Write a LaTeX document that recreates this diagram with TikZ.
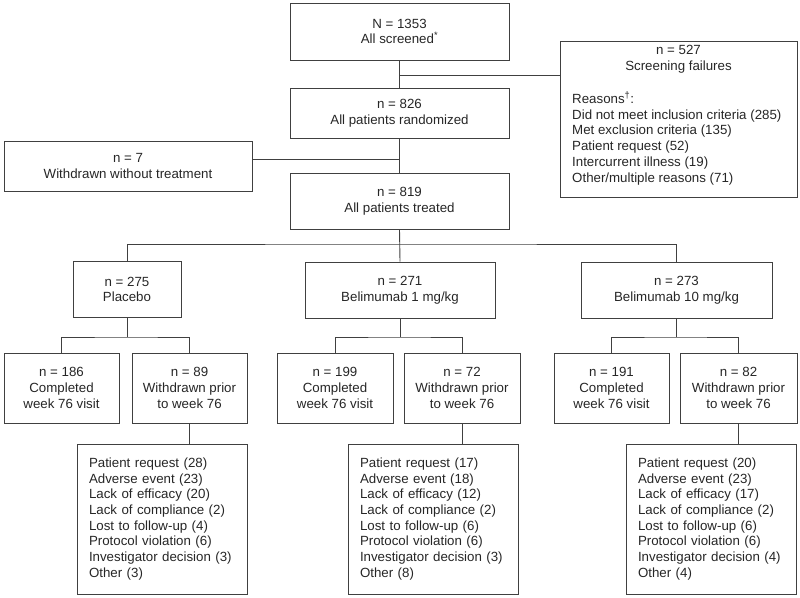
\documentclass[tikz,border=0pt]{standalone}
\usepackage{fontspec}
\setmainfont{Liberation Sans}
\begin{document}
\begin{tikzpicture}[x=1pt,y=-1pt,
  box/.style={draw=black!75, line width=0.9pt, inner sep=0pt, align=center,
    font=\fontsize{13.3}{15.7}\selectfont, text=black!85},
  txt/.style={inner sep=0pt, font=\fontsize{13.3}{15.7}\selectfont, text=black!85},
  rbox/.style={box, align=left, minimum height=150pt, text width=146pt, inner xsep=12pt},
  ln/.style={draw=black!75, line width=0.9pt}]
\useasboundingbox (0,0) rectangle (800,597);

% top chain
\node[box, minimum width=219pt, minimum height=57pt] (scr) at (399.5,31.5) {N = 1353\\All screened\textsuperscript{*}};
\node[box, minimum width=219pt, minimum height=50pt] (rnd) at (399.5,113) {n = 826\\All patients randomized};
\node[box, minimum width=219pt, minimum height=56pt] (trt) at (399.5,201) {n = 819\\All patients treated};

% screening failures
\node[box, minimum width=237pt, minimum height=156pt] (fail) at (678.5,119) {};
\node[txt, align=center] (failh) at (678.5,59.5) {n = 527\\Screening failures};
\node[txt, align=left, anchor=base west] (failr) at (572,182) {Reasons\textsuperscript{†}:\\Did not meet inclusion criteria (285)\\Met exclusion criteria (135)\\Patient request (52)\\Intercurrent illness (19)\\Other/multiple reasons (71)};

% withdrawn without treatment
\node[box, minimum width=248pt, minimum height=50pt] (wo) at (128,166) {n = 7\\Withdrawn without treatment};

\coordinate (j1) at (399.5,75);
\coordinate (j2) at (399.5,159);
\draw[ln] (scr) -- (rnd);
\draw[ln] (j1) -- (j1 -| fail.west);
\draw[ln] (rnd) -- (trt);
\draw[ln] (j2) -- (j2 -| wo.east);

% arms
\node[box, minimum width=108pt, minimum height=56pt] (pla) at (127,289.5) {n = 275\\Placebo};
\node[box, minimum width=190pt, minimum height=56pt] (b1) at (400,290) {n = 271\\Belimumab 1 mg/kg};
\node[box, minimum width=191pt, minimum height=56pt] (b10) at (676.5,290) {n = 273\\Belimumab 10 mg/kg};

\coordinate (bus) at (400,244);
\draw[ln] (trt.south) -- (b1.north);
\draw[ln] (pla.north) |- (bus) -| (b10.north);

% completed / withdrawn
\node[box, minimum width=115pt, minimum height=70pt] (pc) at (61.5,388) {n = 186\\Completed\\week 76 visit};
\node[box, minimum width=115pt, minimum height=70pt] (pw) at (189.5,388) {n = 89\\Withdrawn prior\\to week 76};
\node[box, minimum width=116pt, minimum height=70pt] (b1c) at (335,388) {n = 199\\Completed\\week 76 visit};
\node[box, minimum width=116pt, minimum height=70pt] (b1w) at (462,388) {n = 72\\Withdrawn prior\\to week 76};
\node[box, minimum width=115pt, minimum height=70pt] (b10c) at (611.5,388) {n = 191\\Completed\\week 76 visit};
\node[box, minimum width=117pt, minimum height=70pt] (b10w) at (738.5,388) {n = 82\\Withdrawn prior\\to week 76};

\coordinate (s1) at (127,337);
\coordinate (s2) at (400,337);
\coordinate (s3) at (676.5,337);
\draw[ln] (pla.south) -- (s1);
\draw[ln] (pc.north) |- (s1) -| (pw.north);
\draw[ln] (b1.south) -- (s2);
\draw[ln] (b1c.north) |- (s2) -| (b1w.north);
\draw[ln] (b10.south) -- (s3);
\draw[ln] (b10c.north) |- (s3) -| (b10w.north);

% reasons
\node[rbox] (pr) at (162,519) {Patient request (28)\\Adverse event (23)\\Lack of efficacy (20)\\Lack of compliance (2)\\Lost to follow-up (4)\\Protocol violation (6)\\Investigator decision (3)\\Other (3)};
\node[rbox] (b1r) at (433,519) {Patient request (17)\\Adverse event (18)\\Lack of efficacy (12)\\Lack of compliance (2)\\Lost to follow-up (6)\\Protocol violation (6)\\Investigator decision (3)\\Other (8)};
\node[rbox] (b10r) at (711,519) {Patient request (20)\\Adverse event (23)\\Lack of efficacy (17)\\Lack of compliance (2)\\Lost to follow-up (6)\\Protocol violation (6)\\Investigator decision (4)\\Other (4)};

\draw[ln] (pw.south) -- (pw.south |- pr.north);
\draw[ln] (b1w.south) -- (b1w.south |- b1r.north);
\draw[ln] (b10w.south) -- (b10w.south |- b10r.north);
\end{tikzpicture}
\end{document}
